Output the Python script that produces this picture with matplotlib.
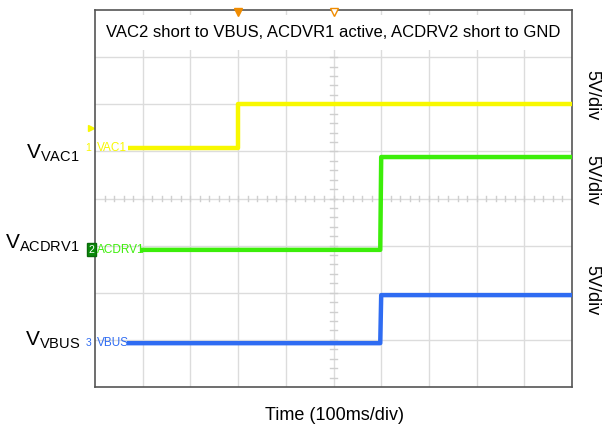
import numpy as np
import matplotlib.pyplot as plt
from matplotlib.patches import Rectangle

plt.rcParams['font.family'] = ['Liberation Sans', 'DejaVu Sans']
plt.rcParams['mathtext.fontset'] = 'custom'
plt.rcParams['mathtext.rm'] = 'Liberation Sans'
plt.rcParams['mathtext.default'] = 'regular'

# time in ms (100 ms/div), level in screen divisions
vac1_t = [69, 300, 300, 1000]
vac1_v = [5.07, 5.07, 6.0, 6.0]
acdrv1_t = [94, 598, 600, 1000]
acdrv1_v = [2.91, 2.91, 4.88, 4.88]
vbus_t = [67, 598, 600, 1000]
vbus_v = [0.93, 0.93, 1.95, 1.95]

title = "VAC2 short to VBUS, ACDVR1 active, ACDRV2 short to GND"
c_yel = '#f8f800'
c_grn = '#3cee0a'
c_blu = '#2f6cf2'

fig = plt.figure(figsize=(6.04, 4.32), dpi=100)
ax = fig.add_axes([95/604, 45/432, 477/604, 377/432])
ax.set_xlim(0, 1000)
ax.set_ylim(0, 8)

# scope graticule
for x in np.arange(100, 1000, 100):
    ax.axvline(x, color='#dcdcdc', lw=1, zorder=0)
for y in np.arange(1, 8):
    ax.axhline(y, color='#dcdcdc', lw=1, zorder=0)
for x in np.arange(20, 1000, 20):
    ax.plot([x, x], [3.94, 4.06], color='#cfcfcf', lw=1, zorder=0)
for y in np.arange(0.2, 8, 0.2):
    ax.plot([492, 508], [y, y], color='#cfcfcf', lw=1, zorder=0)
ax.set_xticks([])
ax.set_yticks([])
for s in ax.spines.values():
    s.set_color('#555555')
    s.set_linewidth(1.2)

ax.plot(vac1_t, vac1_v, color=c_yel, lw=3.2, solid_capstyle='butt', zorder=3)
ax.plot(acdrv1_t, acdrv1_v, color=c_grn, lw=3.2, solid_capstyle='butt', zorder=3)
ax.plot(vbus_t, vbus_v, color=c_blu, lw=3.2, solid_capstyle='butt', zorder=3)

# title box
ax.add_patch(Rectangle((3, 7.15), 994, 0.75, facecolor='white', edgecolor='none', zorder=4))
ax.text(500, 7.53, title, ha='center', va='center', fontsize=12, zorder=5)

# trigger markers
ax.plot([300], [7.96], marker='v', color='#f08c00', ms=6, clip_on=False, zorder=6)
ax.plot([500], [7.96], marker='v', mfc='white', mec='#f08c00', ms=6, clip_on=False, zorder=6)
ax.plot([-8], [5.5], marker='>', color=c_yel, ms=5, clip_on=False)

# channel tags
ax.text(5, 5.07, 'VAC1', color=c_yel, fontsize=8.5, va='center', ha='left', zorder=5)
ax.text(5, 2.91, 'ACDRV1', color=c_grn, fontsize=8.5, va='center', ha='left', zorder=5)
ax.text(5, 0.93, 'VBUS', color=c_blu, fontsize=8.5, va='center', ha='left', zorder=5)
ax.text(-8, 5.07, '1', color=c_yel, fontsize=7.5, va='center', ha='right', clip_on=False)
ax.text(-2, 2.91, '2', color='white', fontsize=7.5, va='center', ha='right', clip_on=False,
        bbox=dict(boxstyle='square,pad=0.15', fc='#0a8a0a', ec='#0a6a0a'))
ax.text(-8, 0.93, '3', color=c_blu, fontsize=7.5, va='center', ha='right', clip_on=False)

# side labels
fig.text(80/604, 1 - 153/432, 'V$_{VAC1}$', fontsize=15, ha='right', va='center')
fig.text(80/604, 1 - 243/432, 'V$_{ACDRV1}$', fontsize=15, ha='right', va='center')
fig.text(80/604, 1 - 340/432, 'V$_{VBUS}$', fontsize=15, ha='right', va='center')
for yp in [95, 180, 290]:
    fig.text(592/604, 1 - yp/432, '5V/div', fontsize=13, rotation=270, ha='center', va='center')
fig.text(334/604, 1 - 416/432, 'Time (100ms/div)', fontsize=13, ha='center', va='center')

fig.savefig('out.png', dpi=100)
